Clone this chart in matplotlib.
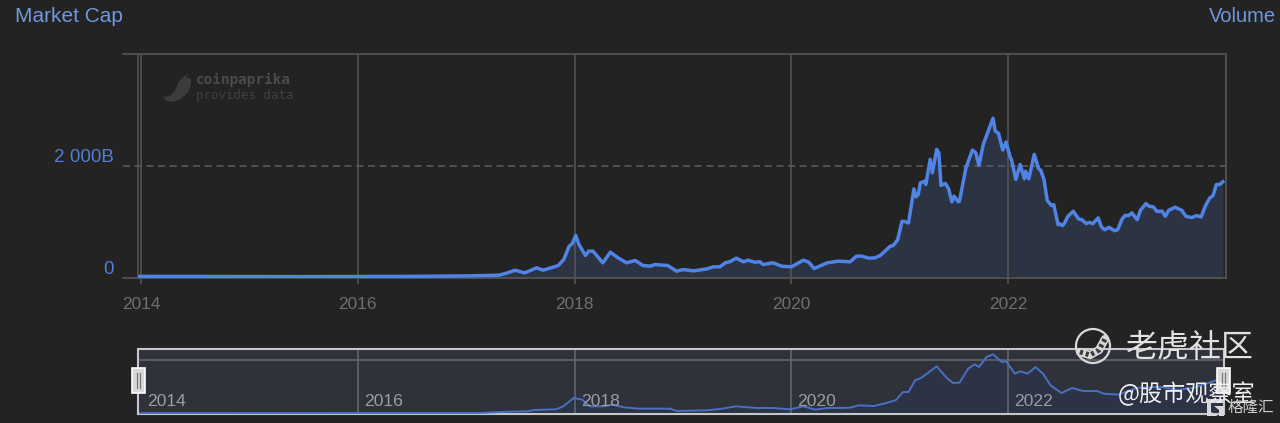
import matplotlib
matplotlib.use('Agg')
import matplotlib.pyplot as plt
from matplotlib.patches import Circle, Polygon, Rectangle

plt.rcParams['font.family'] = ['Liberation Sans', 'Noto Sans CJK SC', 'DejaVu Sans']

W, H = 1280, 423
BG = '#232323'
BLUE = '#4f83e6'
FILL = '#2c3444'
GRID = '#565656'
CJK = ['Noto Sans CJK SC', 'DejaVu Sans']

# market cap in billions, dates as fractional years
dates = [
    2013.99, 2014.5, 2015.0, 2015.5, 2016.0, 2016.5, 2017.0, 2017.13, 2017.30, 2017.36, 2017.45, 2017.54,
    2017.65, 2017.71, 2017.85, 2017.90, 2017.95, 2017.98, 2018.01, 2018.04, 2018.10, 2018.13, 2018.17,
    2018.26, 2018.33, 2018.40, 2018.48, 2018.56, 2018.63, 2018.70, 2018.74, 2018.86, 2018.94, 2019.00,
    2019.10, 2019.22, 2019.28, 2019.34, 2019.39, 2019.43, 2019.49, 2019.56, 2019.60, 2019.66, 2019.71,
    2019.74, 2019.83, 2019.91, 2020.00, 2020.11, 2020.16, 2020.21, 2020.33, 2020.43, 2020.54, 2020.60,
    2020.65, 2020.71, 2020.77, 2020.82, 2020.86, 2020.91, 2020.94, 2020.98, 2021.02, 2021.04, 2021.08,
    2021.12, 2021.13, 2021.15, 2021.17, 2021.19, 2021.23, 2021.24, 2021.28, 2021.30, 2021.34, 2021.36,
    2021.38, 2021.42, 2021.45, 2021.48, 2021.50, 2021.54, 2021.55, 2021.61, 2021.67, 2021.70, 2021.73,
    2021.77, 2021.81, 2021.86, 2021.88, 2021.91, 2021.95, 2021.98, 2022.02, 2022.03, 2022.07, 2022.11,
    2022.15, 2022.16, 2022.19, 2022.24, 2022.28, 2022.30, 2022.33, 2022.36, 2022.40, 2022.42, 2022.46,
    2022.48, 2022.50, 2022.52, 2022.55, 2022.60, 2022.65, 2022.68, 2022.72, 2022.75, 2022.78, 2022.83,
    2022.86, 2022.89, 2022.93, 2022.98, 2023.01, 2023.05, 2023.08, 2023.11, 2023.14, 2023.19, 2023.22,
    2023.27, 2023.30, 2023.34, 2023.37, 2023.42, 2023.45, 2023.48, 2023.54, 2023.60, 2023.64, 2023.69,
    2023.74, 2023.78, 2023.82, 2023.86, 2023.89, 2023.92, 2023.95, 2023.98,
]
market_cap = [
    10, 8, 5, 5, 7, 10, 18, 24, 30, 60, 121, 73,
    164, 121, 206, 315, 558, 606, 751, 588, 388, 467, 467,
    255, 448, 345, 255, 297, 206, 194, 224, 206, 103, 133,
    109, 145, 182, 182, 255, 273, 339, 273, 303, 267, 273,
    224, 255, 194, 182, 303, 267, 152, 255, 285, 273, 376,
    376, 339, 345, 388, 461, 552, 570, 673, 1006, 1006, 976,
    1461, 1594, 1448, 1491, 1703, 1733, 1673, 2127, 1885, 2309, 2248,
    1655, 1691, 1594, 1358, 1461, 1358, 1370, 1976, 2297, 2248, 2018,
    2400, 2612, 2873, 2642, 2600, 2297, 2442, 2157, 2127, 1764, 2036,
    1776, 1915, 1776, 2218, 1958, 1933, 1764, 1382, 1291, 1309, 945,
    958, 927, 976, 1097, 1188, 1048, 1036, 964, 988, 964, 1067,
    903, 855, 897, 836, 855, 1048, 1115, 1109, 1158, 1036, 1206,
    1327, 1279, 1267, 1188, 1188, 1097, 1206, 1261, 1206, 1097, 1073,
    1109, 1085, 1291, 1430, 1473, 1673, 1673, 1721,
]

# the overview strip shows a smoother version of the series
overview_dates = [
    2013.99, 2017.13, 2017.40, 2017.56, 2017.63, 2017.83, 2017.90, 2017.99, 2018.07, 2018.14, 2018.26,
    2018.36, 2018.45, 2018.60, 2018.88, 2018.94, 2019.22, 2019.34, 2019.49, 2019.68, 2019.83, 2019.99,
    2020.11, 2020.22, 2020.33, 2020.45, 2020.54, 2020.62, 2020.76, 2020.85, 2020.96, 2021.03, 2021.08,
    2021.14, 2021.20, 2021.34, 2021.43, 2021.49, 2021.55, 2021.63, 2021.69, 2021.73, 2021.80, 2021.86,
    2021.94, 2021.98, 2022.06, 2022.11, 2022.18, 2022.25, 2022.32, 2022.39, 2022.49, 2022.59, 2022.69,
    2022.82, 2022.88, 2023.02, 2023.10, 2023.19, 2023.40, 2023.56, 2023.71, 2023.93, 2023.98,
]
overview_cap = [
    10, 15, 75, 90, 150, 180, 330, 690, 615, 315, 315,
    390, 270, 210, 210, 105, 135, 195, 315, 240, 240, 180,
    315, 165, 240, 240, 255, 360, 330, 435, 585, 960, 960,
    1485, 1605, 2115, 1605, 1365, 1380, 2010, 2205, 2085, 2535, 2655,
    2310, 2340, 1785, 1890, 1785, 2085, 1785, 1260, 915, 1140, 1005,
    1005, 885, 840, 1000, 1147, 1192, 1057, 1147, 1507, 1700,
]

year_ticks = [2014, 2016, 2018, 2020, 2022]
year_labels = ['2014', '2016', '2018', '2020', '2022']


def px_axes(fig, left, top, right, bottom):
    return fig.add_axes([left / W, 1 - bottom / H, (right - left) / W, (bottom - top) / H])


fig = plt.figure(figsize=(W / 100, H / 100), dpi=100, facecolor=BG)

# main chart
ax = px_axes(fig, 123, 54, 1226, 278)
ax.set_facecolor(BG)
ax.set_xlim(2013.834, 2024.009)
ax.set_ylim(-20, 4035)
ax.fill_between(dates, market_cap, -20, color=FILL, lw=0, zorder=1)
for y in year_ticks:
    ax.axvline(y, color=GRID, lw=1.1, zorder=2)
ax.axvline(2013.97, color=GRID, lw=1.1, zorder=2)
ax.axhline(2000, color='#5a5a5a', lw=1.2, dashes=(4.2, 2.8), zorder=2)
ax.plot(dates, market_cap, color=BLUE, lw=2.5, solid_joinstyle='round', zorder=3)
for side in ['top', 'right', 'bottom']:
    ax.spines[side].set_color(GRID)
    ax.spines[side].set_linewidth(1.2)
ax.spines['left'].set_visible(False)
ax.set_xticks(year_ticks)
ax.set_xticklabels(year_labels, fontsize=12.4, color='#6f6f6f')
ax.tick_params(axis='x', length=4, width=1.1, color=GRID, pad=10)
ax.set_yticks([])

# overview strip
mini = px_axes(fig, 138, 349, 1224, 414)
mini.set_facecolor('#2f323b')
mini.set_xlim(2013.972, 2023.99)
mini.set_ylim(-30, 2895)
mini.fill_between(overview_dates, overview_cap, -30, color='#2b3345', lw=0, zorder=1)
for y in year_ticks[1:]:
    mini.axvline(y, color='#62656c', lw=1.2, zorder=2)
mini.axhline(2385, color='#62656c', lw=1.2, zorder=2)
mini.plot(overview_dates, overview_cap, color='#4a70c4', lw=1.4, zorder=3)
for side in mini.spines.values():
    side.set_color('#c4c6ca')
    side.set_linewidth(1.5)
mini.set_xticks([])
mini.set_yticks([])
for y, label in zip(year_ticks, year_labels):
    mini.annotate(label, (y, 0), xytext=(6, 12), textcoords='offset pixels',
                  fontsize=12.6, color='#9a9da3', va='center', ha='left', zorder=4)

# labels, watermarks and handles in pixel coordinates
top = fig.add_axes([0, 0, 1, 1], facecolor='none')
top.set_xlim(0, W)
top.set_ylim(H, 0)
top.axis('off')

top.text(15, 16, 'Market Cap', fontsize=15, color='#6f97dc', ha='left', va='center')
top.text(1276, 16, 'Volume', fontsize=14.5, color='#6f97dc', ha='right', va='center')
top.text(114, 158, '2 000B', fontsize=13.6, color='#4f7fd6', ha='right', va='center')
top.text(114, 269, '0', fontsize=13.6, color='#4f7fd6', ha='right', va='center')

# pepper logo
top.add_patch(Polygon([(188, 72), (186, 77), (191, 79), (191, 85), (188, 92), (181, 99), (173, 102), (167, 101),
                       (163, 97), (170, 96), (175, 91), (178, 83), (182, 78), (185, 76)],
                      closed=True, color='#3c3c3c', lw=0))
top.text(196, 80, 'coinpaprika', family='DejaVu Sans Mono', fontweight='bold', fontsize=10.4,
         color='#4b4b4b', va='center', ha='left')
top.text(196, 95, 'provides data', family='DejaVu Sans Mono', fontsize=8.9,
         color='#404040', va='center', ha='left')

# range handles
for x in [132, 1217]:
    top.add_patch(Rectangle((x, 368), 13, 25, fc='#d9d9d9', ec='white', lw=1.2))
    top.plot([x + 5, x + 5], [373, 388], color='#777777', lw=0.9)
    top.plot([x + 8, x + 8], [373, 388], color='#777777', lw=0.9)

# community watermark
top.add_patch(Circle((1093, 346), 17, fc='none', ec='#d8d8d8', lw=1.6))
band_x = [1080, 1090, 1099, 1105]
band_y = [352, 355, 350, 339]
top.plot(band_x, band_y, color='#d8d8d8', lw=6, solid_capstyle='round')
top.plot(band_x, band_y, color='#3a3a3a', lw=3.6, dashes=(0.6, 0.6))
top.text(1126, 347.5, '老虎社区', family=CJK, fontsize=23, color='#e2e2e2', va='center', ha='left')
top.text(1118, 394, '@股市观察室', family=CJK, fontsize=16.7, color='#f0f0f0', va='center', ha='left')

# gelonghui mark
top.add_patch(Polygon([(1207, 399), (1224, 399), (1224, 403), (1211, 403), (1211, 412), (1218, 416), (1207, 416)],
                      closed=True, color='#d8d8d8', lw=0))
top.add_patch(Polygon([(1214, 406), (1224, 406), (1224, 416), (1219, 416), (1219, 410)],
                      closed=True, color='#d8d8d8', lw=0))
top.text(1228, 407.5, '格隆汇', family=CJK, fontsize=11.2, color='#cfcfcf', va='center', ha='left')

fig.savefig('out.png', dpi=100, facecolor=BG)
